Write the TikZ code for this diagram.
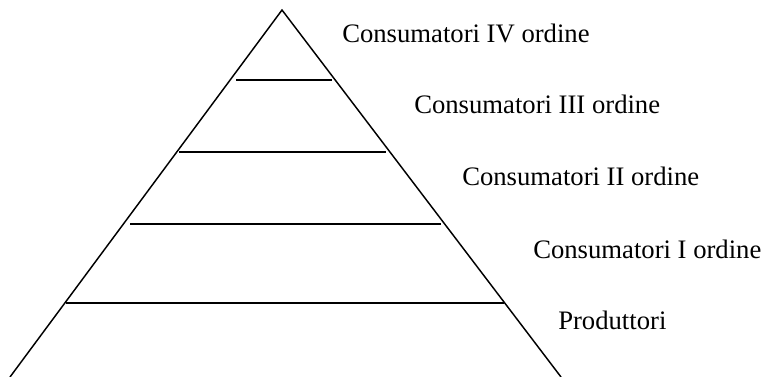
\documentclass[tikz,border=0pt]{standalone}
\usepackage{fontspec}
\setmainfont{Liberation Serif}
\usepackage{tikz}
\usetikzlibrary{positioning}

\begin{document}
\begin{tikzpicture}[x=0.75pt,y=-0.75pt]
\tikzstyle{every node}+=[inner sep=0pt]
\tikzstyle{lev}=[font=\fontsize{20}{24}\selectfont, anchor=base west]
\useasboundingbox (0,0) rectangle (762,376);
\coordinate (top) at (282,10);
\coordinate (bl) at (10,377);
\coordinate (br) at (561,377);
\draw [black, line width=1.1pt] (bl) -- (top) -- (br);
\draw [black, line width=1.1pt] (236,80) -- (332,80);
\draw [black, line width=1.1pt] (179,152) -- (386,152);
\draw [black, line width=1.1pt] (130,224) -- (441,224);
\draw [black, line width=1.1pt] (66,303) -- (504,303);
\node [lev] (c4) at (342,42) {Consumatori IV ordine};
\node [lev] (c3) at (414,113) {Consumatori III ordine};
\node [lev] (c2) at (462,185) {Consumatori II ordine};
\node [lev] (c1) at (533,258) {Consumatori I ordine};
\node [lev] (prod) at (558,329) {Produttori};
\end{tikzpicture}
\end{document}
